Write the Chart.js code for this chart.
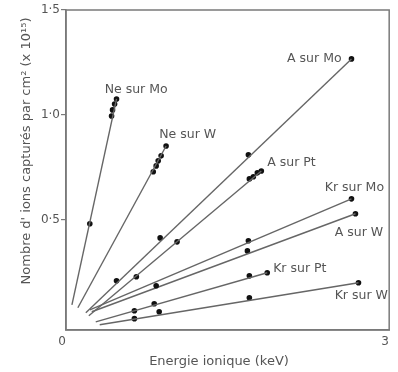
<!DOCTYPE html>
<html>
<head>
<meta charset="utf-8">
<script src="https://cdn.jsdelivr.net/npm/chart.js@4/dist/chart.umd.min.js"></script>
<style>
  html,body{margin:0;padding:0;background:#fff;}
  canvas{display:block;}
</style>
</head>
<body>
<canvas id="chart" width="398" height="372"></canvas>
<script>
// DATA
const names = ["Ne sur Mo","Ne sur W","A sur Mo","A sur Pt","Kr sur Mo","A sur W","Kr sur Pt","Kr sur W"];

// energie ionique (keV)
const energies = [
  [0.221,0.423,0.432,0.451,0.469],
  [0.810,0.837,0.856,0.883,0.929],
  [0.469,0.874,1.693,2.650],
  [0.653,1.031,1.702,1.739,1.776,1.813],
  [0.837,1.693,2.650],
  [1.684,2.687],
  [0.635,0.819,1.702,1.868],
  [0.635,0.865,1.702,2.715]
];

// ions captures par cm2 (x10^15)
const counts = [
  [0.481,0.995,1.024,1.052,1.076],
  [0.729,0.757,0.781,0.805,0.852],
  [0.210,0.414,0.810,1.267],
  [0.229,0.395,0.695,0.705,0.724,0.733],
  [0.186,0.400,0.600],
  [0.352,0.529],
  [0.067,0.100,0.233,0.248],
  [0.029,0.062,0.129,0.200]
];

// where each fitted line starts (near the origin)
const fitStartX = [0.055,0.110,0.184,0.212,0.221,0.239,0.276,0.313];
const fitStartY = [0.095,0.081,0.057,0.043,0.071,0.062,0.014,0.000];

// label anchors (left edge, middle) in data units
const labelX = [0.359,0.865,2.052,1.868,2.402,2.494,1.923,2.494];
const labelY = [1.119,0.905,1.267,0.771,0.652,0.438,0.267,0.138];

const yTicks = [0.5,1.0,1.5];
const xTicks = [0,3];

const xTitle = "Energie ionique (keV)";
const yTitle = "Nombre d' ions capturés par cm² (x 10¹⁵)";

// STYLE
const ink = "#555";
const lineCol = "#666";
const font = "DejaVu Sans";

// DATASETS
let datasets = [];
names.forEach((n,i)=>{
  let pts = energies[i].map((x,j)=>({x:x,y:counts[i][j]}));
  let last = pts[pts.length-1];
  datasets.push({
    label:n+" fit",
    type:"line",
    data:[{x:fitStartX[i],y:fitStartY[i]},last],
    borderColor:lineCol,
    borderWidth:1.4,
    pointRadius:0,
    fill:false
  });
  datasets.push({
    label:n,
    type:"scatter",
    data:pts,
    backgroundColor:"#111",
    borderColor:"#111",
    pointRadius:2.8,
    borderWidth:0
  });
});

// PLUGIN: frame, series labels, axis titles
const decor = {
  id:"decor",
  afterDraw(chart){
    const c = chart.ctx, a = chart.chartArea;
    const sx = chart.scales.x, sy = chart.scales.y;
    c.save();
    c.strokeStyle = "#7a7a7a";
    c.lineWidth = 1.5;
    c.strokeRect(a.left, a.top, a.right-a.left, a.bottom-a.top);

    c.fillStyle = ink;
    c.font = "12.5px '"+font+"'";
    c.textAlign = "left";
    c.textBaseline = "middle";
    names.forEach((n,i)=>{
      c.fillText(n, sx.getPixelForValue(labelX[i]), sy.getPixelForValue(labelY[i]));
    });

    c.font = "13px '"+font+"'";
    c.textAlign = "center";
    c.fillText(xTitle, 219, 362);
    c.translate(27, 151);
    c.rotate(-Math.PI/2);
    c.fillText(yTitle, 0, 0);
    c.restore();
  }
};

new Chart(document.getElementById("chart"),{
  type:"scatter",
  data:{datasets},
  options:{
    responsive:false,
    devicePixelRatio:1,
    animation:false,
    layout:{padding:{top:10,right:6,left:0,bottom:0}},
    plugins:{legend:{display:false},tooltip:{enabled:false}},
    scales:{
      x:{
        type:"linear", min:0, max:3,
        afterBuildTicks:s=>{s.ticks=xTicks.map(v=>({value:v}));},
        afterFit:s=>{s.height=42;},
        grid:{display:false,drawTicks:false},
        border:{display:true,color:"#7a7a7a",width:1.5},
        ticks:{color:ink,font:{family:font,size:12},padding:5,labelOffset:-4,maxRotation:0,
          callback:v=>String(v)}
      },
      y:{
        type:"linear", min:-0.025, max:1.5,
        afterBuildTicks:s=>{s.ticks=yTicks.map(v=>({value:v}));},
        afterFit:s=>{s.width=66;},
        grid:{drawOnChartArea:false,drawTicks:true,tickLength:5,color:"#7a7a7a",lineWidth:1.2},
        border:{display:true,color:"#7a7a7a",width:1.5},
        ticks:{color:ink,font:{family:font,size:12},padding:1,
          callback:v=>v.toFixed(1).replace(".","·")}
      }
    }
  },
  plugins:[decor]
});
</script>
</body>
</html>
